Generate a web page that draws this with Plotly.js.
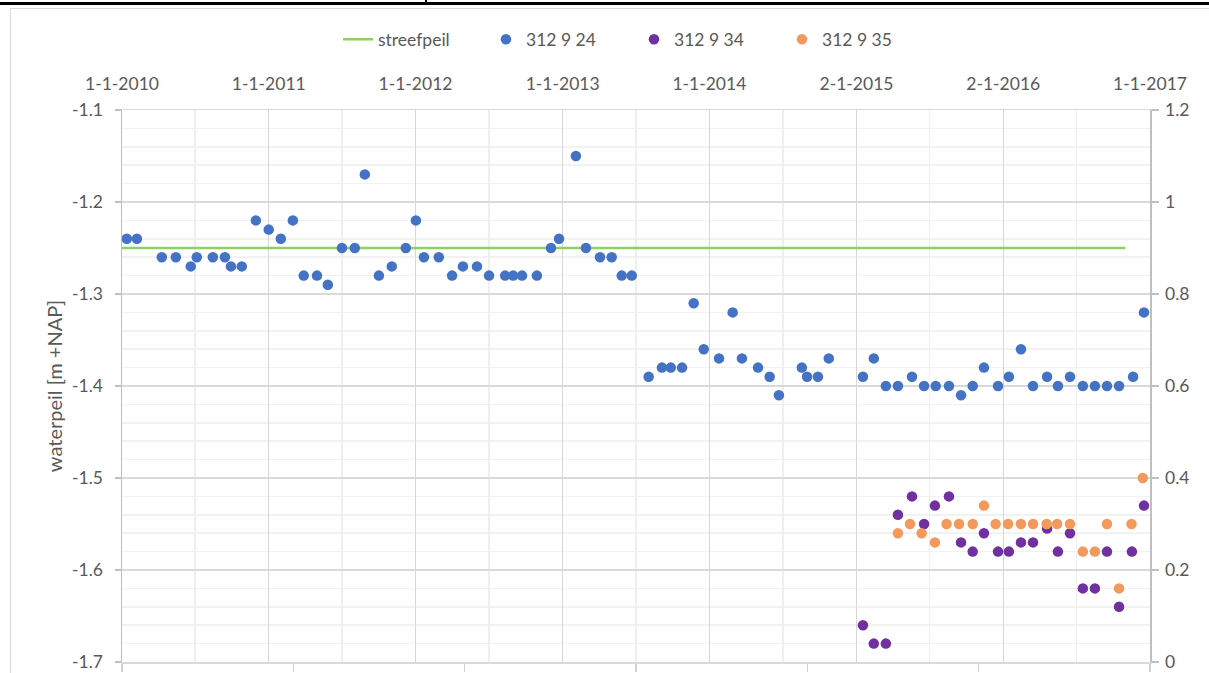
<!DOCTYPE html>
<html>
<head>
<meta charset="utf-8">
<script src="https://cdn.plot.ly/plotly-3.0.1.min.js"></script>
<style>
  html, body { margin: 0; padding: 0; background: #ffffff; }
  #wrap { position: relative; width: 1209px; height: 673px; overflow: hidden; }
  #chart { position: absolute; left: 0; top: 0; width: 1209px; height: 673px; }
  .deco { position: absolute; pointer-events: none; }
</style>
</head>
<body>
<div id="wrap">
  <div id="chart"></div>
  <div class="deco" style="left:0;top:2px;width:1209px;height:3px;background:#000;"></div>
  <div class="deco" style="left:425px;top:0;width:2px;height:4px;background:#000;"></div>
  <div class="deco" style="left:10px;top:8px;width:1px;height:665px;background:#d9d9d9;"></div>
  <div class="deco" style="left:10px;top:8px;width:1199px;height:1px;background:#d9d9d9;"></div>
</div>
<script>
// ---------- data ----------
const streefDates = ['2010-01-01', '2016-11-01'];
const streefLevel = [-1.25, -1.25];

const dates24 = [
  '2010-01-13','2010-02-07','2010-04-10','2010-05-15','2010-06-21','2010-07-06','2010-08-15','2010-09-14','2010-09-29','2010-10-26','2010-11-30',
  '2011-01-01','2011-01-31','2011-03-02','2011-03-29','2011-05-01','2011-05-28','2011-07-02','2011-08-03','2011-08-28','2011-10-02','2011-11-03','2011-12-08',
  '2012-01-02','2012-01-22','2012-02-28','2012-04-01','2012-04-28','2012-06-02','2012-07-02','2012-08-11','2012-08-31','2012-09-22','2012-10-29','2012-12-03','2012-12-23',
  '2013-02-03','2013-02-28','2013-04-04','2013-05-03','2013-05-28','2013-06-22','2013-08-03','2013-09-05','2013-09-27','2013-10-25','2013-11-23','2013-12-18',
  '2014-01-25','2014-02-28','2014-03-23','2014-05-02','2014-05-31','2014-06-23','2014-08-19','2014-09-01','2014-09-28','2014-10-25',
  '2015-01-18','2015-02-14','2015-03-16','2015-04-15','2015-05-20','2015-06-19','2015-07-18','2015-08-20','2015-09-19','2015-10-18','2015-11-15','2015-12-20',
  '2016-01-16','2016-02-15','2016-03-16','2016-04-20','2016-05-17','2016-06-16','2016-07-18','2016-08-17','2016-09-16','2016-10-16','2016-11-20','2016-12-17'
];
const level24 = [
  -1.24,-1.24,-1.26,-1.26,-1.27,-1.26,-1.26,-1.26,-1.27,-1.27,-1.22,
  -1.23,-1.24,-1.22,-1.28,-1.28,-1.29,-1.25,-1.25,-1.17,-1.28,-1.27,-1.25,
  -1.22,-1.26,-1.26,-1.28,-1.27,-1.27,-1.28,-1.28,-1.28,-1.28,-1.28,-1.25,-1.24,
  -1.15,-1.25,-1.26,-1.26,-1.28,-1.28,-1.39,-1.38,-1.38,-1.38,-1.31,-1.36,
  -1.37,-1.32,-1.37,-1.38,-1.39,-1.41,-1.38,-1.39,-1.39,-1.37,
  -1.39,-1.37,-1.40,-1.40,-1.39,-1.40,-1.40,-1.40,-1.41,-1.40,-1.38,-1.40,
  -1.39,-1.36,-1.40,-1.39,-1.40,-1.39,-1.40,-1.40,-1.40,-1.40,-1.39,-1.32
];

const dates34 = [
  '2015-01-18','2015-02-14','2015-03-16','2015-04-15','2015-05-20','2015-06-19','2015-07-16','2015-08-20','2015-09-19','2015-10-18','2015-11-15','2015-12-20',
  '2016-01-16','2016-02-15','2016-03-16','2016-04-20','2016-05-17','2016-06-16','2016-07-18','2016-08-17','2016-09-16','2016-10-16','2016-11-17','2016-12-17'
];
const level34 = [
  0.08,0.04,0.04,0.32,0.36,0.30,0.34,0.36,0.26,0.24,0.28,0.24,
  0.24,0.26,0.26,0.29,0.24,0.28,0.16,0.16,0.24,0.12,0.24,0.34
];

const dates35 = [
  '2015-04-15','2015-05-15','2015-06-13','2015-07-16','2015-08-14','2015-09-14','2015-10-18','2015-11-15','2015-12-14',
  '2016-01-14','2016-02-15','2016-03-16','2016-04-19','2016-05-15','2016-06-16','2016-07-18','2016-08-17','2016-09-16','2016-10-16','2016-11-16','2016-12-14'
];
const level35 = [
  0.28,0.30,0.28,0.26,0.30,0.30,0.30,0.34,0.30,
  0.30,0.30,0.30,0.30,0.30,0.30,0.24,0.24,0.30,0.16,0.30,0.40
];

const xTickDates = ['2010-01-01','2011-01-01','2012-01-01','2013-01-01','2014-01-01','2015-01-02','2016-01-02','2017-01-01'];
const xTickText  = ['1-1-2010','1-1-2011','1-1-2012','1-1-2013','1-1-2014','2-1-2015','2-1-2016','1-1-2017'];
const xMinorDates = ['2010-07-02','2011-07-02','2012-07-02','2013-07-02','2014-07-03','2015-07-03','2016-07-02'];
const yTickVals = [-1.7,-1.6,-1.5,-1.4,-1.3,-1.2,-1.1];
const yTickText = ['-1.7','-1.6','-1.5','-1.4','-1.3','-1.2','-1.1'];
const y2TickVals = [0,0.2,0.4,0.6,0.8,1.0,1.2];
const y2TickText = ['0','0.2','0.4','0.6','0.8','1','1.2'];

// ---------- chart ----------
const FONT = 'Lato, "Liberation Sans", sans-serif';
const GREY = '#595959';
const FS = 17.5;
const xStart = Date.UTC(2010,0,1), xEnd = Date.UTC(2017,0,1);
const bottomTicks = [0,1,2,3,4,5,6].map(k => xStart + k*(xEnd - xStart)/6);

const traces = [
  { name: 'streefpeil', x: streefDates, y: streefLevel, xaxis: 'x', yaxis: 'y',
    type: 'scatter', mode: 'lines', line: { color: '#8fcf65', width: 2.5 } },
  { name: '312 9 24', x: dates24, y: level24, xaxis: 'x', yaxis: 'y',
    type: 'scatter', mode: 'markers', marker: { color: '#4472c4', size: 10.5 } },
  { name: '312 9 34', x: dates34, y: level34, xaxis: 'x2', yaxis: 'y2',
    type: 'scatter', mode: 'markers', marker: { color: '#7030a0', size: 10.5 } },
  { name: '312 9 35', x: dates35, y: level35, xaxis: 'x2', yaxis: 'y2',
    type: 'scatter', mode: 'markers', marker: { color: '#f4995c', size: 10.5 } }
];

const layout = {
  width: 1209, height: 673,
  margin: { l: 122, r: 59, t: 110, b: 11, pad: 0 },
  paper_bgcolor: '#ffffff', plot_bgcolor: '#ffffff',
  font: { family: FONT, size: FS, color: GREY },
  showlegend: true,
  legend: { orientation: 'h', x: 0.2101, xanchor: 'left', y: 1.128, yanchor: 'middle',
            entrywidth: 103, entrywidthmode: 'pixels',
            font: { family: FONT, size: FS, color: GREY }, bgcolor: 'rgba(0,0,0,0)', traceorder: 'normal' },
  xaxis: { type: 'date', range: [xStart, xEnd], tickmode: 'array', tickvals: bottomTicks,
           ticks: 'outside', ticklen: 8, tickcolor: '#d0d0d0', tickwidth: 1.5, showticklabels: false,
           showgrid: false, zeroline: false, showline: true, linecolor: '#d9d9d9', linewidth: 1.5, fixedrange: true },
  xaxis2: { type: 'date', overlaying: 'x', side: 'top', anchor: 'y', range: [xStart, xEnd],
            tickmode: 'array', tickvals: xTickDates, ticktext: xTickText, ticks: '',
            ticklabelstandoff: 12,
            showgrid: true, gridcolor: '#d6d6d6', gridwidth: 1.5,
            minor: { tickmode: 'array', tickvals: xMinorDates, showgrid: true, gridcolor: '#efefef', gridwidth: 1.5, ticks: '' },
            showline: true, linecolor: '#d9d9d9', linewidth: 1.5, zeroline: false,
            tickfont: { family: FONT, size: FS, color: GREY }, fixedrange: true },
  yaxis: { range: [-1.7, -1.1], tickmode: 'array', tickvals: yTickVals, ticktext: yTickText,
           ticks: 'outside', ticklen: 6, tickcolor: '#bfbfbf', tickwidth: 1.5,
           ticklabelstandoff: 8,
           showgrid: true, gridcolor: '#d9d9d9', gridwidth: 1.5,
           minor: { tickmode: 'linear', tick0: -1.7, dtick: 0.02, showgrid: true, gridcolor: '#f2f2f2', gridwidth: 1.5, ticks: '' },
           showline: true, linecolor: '#bfbfbf', linewidth: 1.5, zeroline: false,
           tickfont: { family: FONT, size: FS, color: GREY },
           title: { text: 'waterpeil [m +NAP]', font: { family: FONT, size: 20, color: GREY }, standoff: 4 },
           fixedrange: true },
  yaxis2: { overlaying: 'y', side: 'right', anchor: 'x', range: [0, 1.2], tickmode: 'array',
            tickvals: y2TickVals, ticktext: y2TickText, ticks: 'outside', ticklen: 7, tickcolor: '#bfbfbf', tickwidth: 1.5,
            ticklabelstandoff: 3,
            showgrid: false, showline: true, linecolor: '#bfbfbf', linewidth: 1.5, zeroline: false,
            tickfont: { family: FONT, size: FS, color: GREY }, fixedrange: true }
};

Plotly.newPlot('chart', traces, layout, { displayModeBar: false, staticPlot: true });
</script>
</body>
</html>
